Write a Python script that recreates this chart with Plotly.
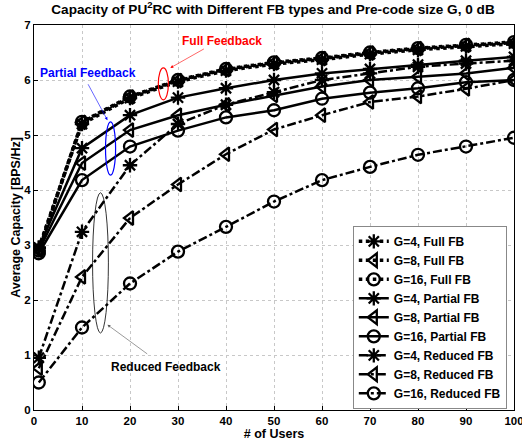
import plotly.graph_objects as go

users = [1, 10, 20, 30, 40, 50, 60, 70, 80, 90, 100]

full_g4 = [2.95, 5.20, 5.67, 5.97, 6.17, 6.29, 6.37, 6.47, 6.55, 6.61, 6.66]
full_g8 = [2.93, 5.23, 5.69, 5.99, 6.19, 6.31, 6.39, 6.49, 6.57, 6.63, 6.68]
full_g16 = [2.90, 5.24, 5.70, 6.00, 6.20, 6.32, 6.40, 6.50, 6.58, 6.64, 6.69]

part_g4 = [2.95, 4.76, 5.36, 5.68, 5.85, 6.00, 6.12, 6.20, 6.28, 6.35, 6.42]
part_g8 = [2.90, 4.49, 5.09, 5.36, 5.55, 5.72, 5.88, 6.00, 6.06, 6.12, 6.22]
part_g16 = [2.85, 4.18, 4.79, 5.08, 5.32, 5.45, 5.66, 5.77, 5.85, 5.96, 6.00]

red_g4 = [0.95, 3.24, 4.45, 5.20, 5.55, 5.78, 6.00, 6.12, 6.24, 6.30, 6.35]
red_g8 = [0.76, 2.42, 3.49, 4.10, 4.65, 5.10, 5.36, 5.60, 5.70, 5.84, 6.00]
red_g16 = [0.50, 1.50, 2.30, 2.88, 3.33, 3.79, 4.18, 4.42, 4.64, 4.79, 4.95]

series = [
    ("G=4, Full FB", full_g4, "dot", "asterisk-open", 3.5),
    ("G=8, Full FB", full_g8, "dot", "triangle-left-open", 3.5),
    ("G=16, Full FB", full_g16, "dot", "circle-open", 3.5),
    ("G=4, Partial FB", part_g4, "solid", "asterisk-open", 2.5),
    ("G=8, Partial FB", part_g8, "solid", "triangle-left-open", 2.5),
    ("G=16, Partial FB", part_g16, "solid", "circle-open", 2.5),
    ("G=4, Reduced FB", red_g4, "dashdot", "asterisk-open", 2.5),
    ("G=8, Reduced FB", red_g8, "dashdot", "triangle-left-open", 2.5),
    ("G=16, Reduced FB", red_g16, "dashdot", "circle-open", 2.5),
]

FONT = "Liberation Sans"
fig = go.Figure()
for name, vals, dash, sym, w in series:
    fig.add_trace(go.Scatter(
        x=users, y=vals, name=name, mode="lines+markers",
        line=dict(color="black", width=w, dash=dash),
        marker=dict(symbol=sym, size=12, color="black",
                    line=dict(color="black", width=2.3)),
    ))

grid = dict(showgrid=True, gridcolor="#c8c8c8", griddash="dot", gridwidth=1,
            showline=True, linecolor="black", linewidth=1, mirror=True,
            ticks="inside", ticklen=4, tickcolor="black", zeroline=False,
            automargin=False, ticklabeloverflow="allow",
            tickfont=dict(family=FONT, size=11.5, color="black", weight="bold"))

fig.update_layout(
    width=522, height=443,
    margin=dict(l=34, r=8, t=25, b=33),
    plot_bgcolor="white", paper_bgcolor="white",
    font=dict(family=FONT, color="black"),
    title=dict(text="Capacity of PU<sup>2</sup>RC with Different FB types and Pre-code size G, 0 dB",
               x=0.523, xanchor="center", y=0.99, yanchor="top",
               font=dict(family=FONT, size=13.6, color="black", weight="bold")),
    xaxis=dict(range=[0, 100], dtick=10, **grid,
               title=dict(text="# of Users", standoff=0,
                          font=dict(family=FONT, size=12.5, weight="bold"))),
    yaxis=dict(range=[0, 7], dtick=1, **grid,
               title=dict(text="Average Capacity [BPS/Hz]", standoff=0,
                          font=dict(family=FONT, size=12.5, weight="bold"))),
    legend=dict(x=0.985, xanchor="right", y=0.003, yanchor="bottom",
                bgcolor="white", bordercolor="#888888", borderwidth=1,
                itemwidth=30, tracegroupgap=0,
                font=dict(family=FONT, size=12, color="black", weight="bold")),
    showlegend=True,
)

# ellipses
fig.add_shape(type="circle", xref="x", yref="y", x0=25.9, x1=28.0, y0=5.64, y1=6.22,
              line=dict(color="red", width=1.2))
fig.add_shape(type="circle", xref="x", yref="y", x0=14.9, x1=17.0, y0=4.27, y1=5.24,
              line=dict(color="blue", width=1.2))
fig.add_shape(type="circle", xref="x", yref="y", x0=12.2, x1=15.5, y0=1.40, y1=3.95,
              line=dict(color="black", width=0.8))

# arrows
fig.add_annotation(x=28.4, y=6.22, ax=35.7, ay=6.58, xref="x", yref="y", axref="x", ayref="y",
                   text="", showarrow=True, arrowhead=2, arrowsize=1, arrowwidth=0.6, arrowcolor="red")
fig.add_annotation(x=15.3, y=5.27, ax=11.1, ay=5.95, xref="x", yref="y", axref="x", ayref="y",
                   text="", showarrow=True, arrowhead=2, arrowsize=1, arrowwidth=0.6, arrowcolor="blue")
fig.add_annotation(x=15.3, y=1.55, ax=23.9, ay=1.0, xref="x", yref="y", axref="x", ayref="y",
                   text="", showarrow=True, arrowhead=2, arrowsize=1, arrowwidth=0.6, arrowcolor="#555555")

# labels
fig.add_annotation(x=39.1, y=6.71, xref="x", yref="y", text="Full Feedback", showarrow=False,
                   font=dict(family=FONT, size=12, color="red", weight="bold"))
fig.add_annotation(x=11.35, y=6.13, xref="x", yref="y", text="Partial Feedback", showarrow=False,
                   font=dict(family=FONT, size=12, color="blue", weight="bold"))
fig.add_annotation(x=27.4, y=0.78, xref="x", yref="y", text="Reduced Feedback", showarrow=False,
                   font=dict(family=FONT, size=12, color="black", weight="bold"))

fig.write_html("out.html", config={"displayModeBar": False},
               post_script="document.body.style.margin='0';document.body.style.overflow='hidden';")
